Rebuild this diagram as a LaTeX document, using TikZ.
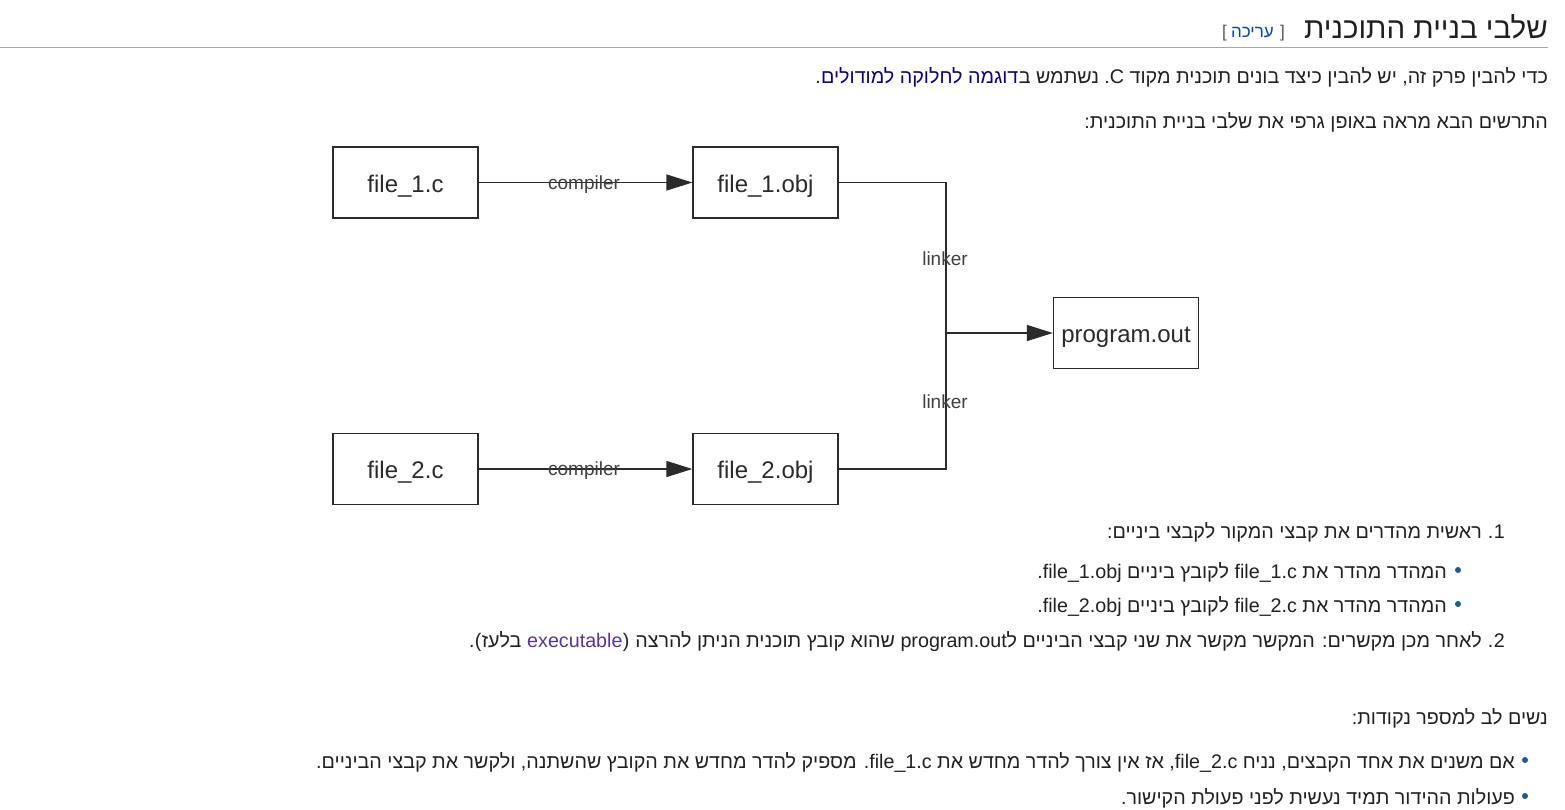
\documentclass[tikz,border=0pt]{standalone}
\usepackage{fontspec}
\setmainfont{Liberation Sans}
\newfontfamily\heb[Script=Hebrew]{Liberation Sans}
\TeXXeTstate=1
\usetikzlibrary{arrows.meta}
\definecolor{bodytext}{HTML}{202122}
\definecolor{linkblue}{HTML}{0B0080}
\definecolor{editblue}{HTML}{0645AD}
\definecolor{visitedlink}{HTML}{5A3696}
\definecolor{rulegray}{HTML}{A2A9B1}
\definecolor{bracketgray}{HTML}{54595D}
\definecolor{bulletblue}{HTML}{1F5A96}
\definecolor{diagline}{HTML}{2B2B2B}
\newcommand{\Lt}[1]{\beginL #1\endL{}}
\begin{document}
\begin{tikzpicture}[x=1pt,y=-1pt,
  fbox/.style={draw=diagline, line width=1.3pt, minimum width=145pt, minimum height=71pt, inner sep=0pt, text height=19pt, text depth=0pt, font=\fontsize{24}{28}\selectfont, text=diagline},
  lbl/.style={font=\fontsize{19}{22}\selectfont, text=diagline!90, inner sep=0pt},
  conn/.style={draw=diagline, line width=1.3pt},
  tip/.style={-{Triangle[length=26pt,width=16pt]}},
  body/.style={font=\heb\fontsize{19.7}{23}\selectfont, text=bodytext, anchor=base east, inner sep=0pt},
  latin/.style={body, font=\fontsize{19.7}{23}\selectfont},
  bul/.style={circle, fill=bulletblue, inner sep=0pt, minimum size=6pt}
]
\useasboundingbox (0,0) rectangle (1565,809);
\fill[white] (0,0) rectangle (1565,809);

% heading
\node[body, font=\heb\fontsize{29.5}{34}\selectfont] (head) at (1548,38) {\beginR שלבי בניית התוכנית\endR};
\node[body, font=\fontsize{17}{20}\selectfont, text=bracketgray] (brR) at (1285,37) {]};
\node[body, font=\heb\fontsize{17}{20}\selectfont, text=editblue] (edit) at (1274,37) {\beginR עריכה\endR};
\node[body, font=\fontsize{17}{20}\selectfont, text=bracketgray] (brL) at (1227,37) {[};
\draw[rulegray, line width=1pt] (0,47) -- (1548,47);

% paragraph 1
\node[body] (p1a) at (1548,83) {\beginR כדי להבין פרק זה, יש להבין כיצד בונים תוכנית מקוד \Lt{C}. נשתמש ב\endR};
\node[body, text=linkblue] (p1b) at (p1a.base west) {\beginR דוגמה לחלוקה למודולים\endR};
\node[latin] (p1c) at (p1b.base west) {.};
\node[body] (p2) at (1548,128) {\beginR התרשים הבא מראה באופן גרפי את שלבי בניית התוכנית:\endR};

% diagram
\node[fbox] (f1c) at (405.5,182.5) {file\_1.c};
\node[fbox] (f1o) at (765.5,182.5) {file\_1.obj};
\node[fbox] (f2c) at (405.5,469) {file\_2.c};
\node[fbox] (f2o) at (765.5,469) {file\_2.obj};
\node[fbox] (po) at (1126,333) {program.out};
\coordinate (j1) at (946,182.5);
\coordinate (j2) at (946,469);
\coordinate (jm) at (946,333);
\draw[conn,tip] (f1c) -- (f1o);
\draw[conn,tip] (f2c) -- (f2o);
\draw[conn] (f1o.east) -- (j1) -- (j2) -- (f2o.east);
\draw[conn,tip] (jm) -- (po.west);
\node[lbl] (c1) at (584,185) {compiler};
\node[lbl] (c2) at (584,471) {compiler};
\node[lbl] (l1) at (945,259) {linker};
\node[lbl] (l2) at (945,402) {linker};

% numbered list
\node[latin] (n1) at (1505,538) {1};
\node[latin] (n1dot) at (n1.base west) {.};
\node[body] (i1) at (1482,538) {\beginR ראשית מהדרים את קבצי המקור לקבצי ביניים:\endR};
\node[bul] (b1) at (1458,570) {};
\node[body] (s1) at (1447,578) {\beginR המהדר מהדר את \Lt{file\_1.c} לקובץ ביניים \Lt{file\_1.obj}.\endR};
\node[bul] (b2) at (1458,604) {};
\node[body] (s2) at (1447,612) {\beginR המהדר מהדר את \Lt{file\_2.c} לקובץ ביניים \Lt{file\_2.obj}.\endR};
\node[latin] (n2) at (1505,647) {2};
\node[latin] (n2dot) at (n2.base west) {.};
\node[body] (i2a) at (1482,647) {\beginR לאחר מכן מקשרים: המקשר מקשר את שני קבצי הביניים ל\Lt{program.out} שהוא קובץ תוכנית הניתן להרצה\endR};
\node[latin] (i2b) at ([xshift=-5.5pt]i2a.base west) {)};
\node[latin, text=visitedlink] (i2c) at (i2b.base west) {executable};
\node[body] (i2d) at ([xshift=-5.5pt]i2c.base west) {\beginR בלעז\endR};
\node[latin] (i2e) at (i2d.base west) {(};
\node[latin] (i2f) at (i2e.base west) {.};

% notes
\node[body] (p3) at (1548,724) {\beginR נשים לב למספר נקודות:\endR};
\node[bul] (b3) at (1525,760) {};
\node[body] (t1) at (1515,768) {\beginR אם משנים את אחד הקבצים, נניח \Lt{file\_2.c}, אז אין צורך להדר מחדש את \Lt{file\_1.c}. מספיק להדר מחדש את הקובץ שהשתנה, ולקשר את קבצי הביניים.\endR};
\node[bul] (b4) at (1525,796) {};
\node[body] (t2) at (1515,804) {\beginR פעולות ההידור תמיד נעשית לפני פעולת הקישור.\endR};
\end{tikzpicture}
\end{document}
